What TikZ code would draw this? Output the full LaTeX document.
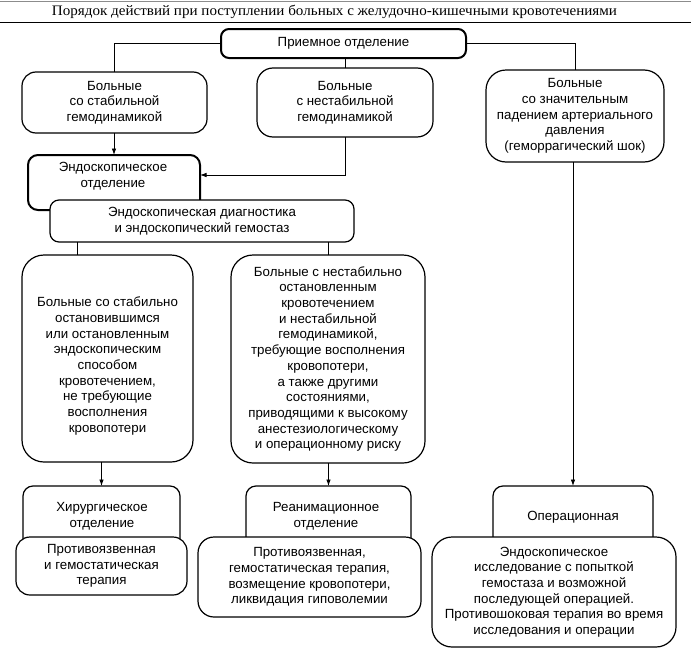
\documentclass[tikz,border=0pt]{standalone}
\usepackage{fontspec}
\setmainfont{Liberation Sans}
\newfontfamily\titlefont{Liberation Serif}
\usetikzlibrary{arrows.meta,calc}
\begin{document}
\begin{tikzpicture}[x=1pt,y=-1pt,
  font=\fontsize{13.3}{15.7}\selectfont,
  box/.style={draw, rounded corners=#1, fill=white, line width=1.2pt, inner sep=0pt, outer sep=0pt, align=center},
  box/.default=14pt,
  boldbox/.style={box=#1, line width=2pt},
  boldbox/.default=9pt,
  txt/.style={align=center, inner sep=0pt},
  conn/.style={line width=0.8pt},
  arr/.style={conn, -{Latex[length=6.5pt,width=4.5pt]}}]
\useasboundingbox (0,0) rectangle (691,656);
% title rules
\draw[black!45, line width=1.3pt] (0,1.5) -- (691,1.5);
\draw[line width=1.1pt] (0,22.5) -- (691,22.5);
\node[inner sep=0pt] (title) at (334.5,12) {\resizebox{565pt}{\height}{\titlefont\fontsize{14.5}{16}\selectfont Порядок действий при поступлении больных с желудочно-кишечными кровотечениями}};
% level 1
\node[boldbox=8pt, minimum width=245, minimum height=29] (P) at (343.5,43.5) {Приемное отделение};
\node[box=14pt, minimum width=185, minimum height=61] (B1) at (114.5,102.5) {Больные\\со стабильной\\гемодинамикой};
\node[box=16pt, minimum width=176, minimum height=69] (B2) at (345,102.5) {Больные\\с нестабильной\\гемодинамикой};
\node[box=20pt, minimum width=178, minimum height=92] (B3) at (575,116) {Больные\\со значительным\\падением артериального\\давления\\(геморрагический шок)};
\draw[conn] (P.west) -| (B1.north);
\draw[conn] (P.east) -| (B3.north);
\draw[conn] (P.south -| B2.north) -- (B2.north);
% endoscopy
\node[boldbox=10pt, minimum width=172, minimum height=55] (E) at (114,182.5) {};
\node[box=9pt, minimum width=304, minimum height=42] (D) at (202,221) {Эндоскопическая диагностика\\и эндоскопический гемостаз};
\node[txt] (ET) at (113,176) {Эндоскопическое\\отделение};
\draw[arr] (B1.south -| E.north) -- (E.north);
\draw[arr] (B2.south) |- ([yshift=7.5pt]E.east);
% level 3
\node[box=22pt, minimum width=171, minimum height=207] (S) at (107.5,358.5) {};
\node[txt] (ST) at (107.5,366) {Больные со стабильно\\остановившимся\\или остановленным\\эндоскопическим\\способом\\кровотечением,\\не требующие\\восполнения\\кровопотери};
\node[box=22pt, minimum width=194, minimum height=208] (U) at (328,359) {Больные с нестабильно\\остановленным\\кровотечением\\и нестабильной\\гемодинамикой,\\требующие восполнения\\кровопотери,\\а также другими\\состояниями,\\приводящими к высокому\\анестезиологическому\\и операционному риску};
\draw[conn] (D.south -| 77,0) -- ([xshift=-30.5pt]S.north);
\draw[conn] (D.south -| U.north) -- (U.north);
% level 4
\node[box=10pt, minimum width=157, minimum height=74] (H) at (101.5,523) {};
\node[box=14pt, minimum width=171, minimum height=58] (HT) at (101.5,566) {Противоязвенная\\и гемостатическая\\терапия};
\node[txt] (HX) at (102,516.5) {Хирургическое\\отделение};
\node[box=10pt, minimum width=165, minimum height=74] (R) at (328.5,523) {};
\node[box=16pt, minimum width=223, minimum height=80] (RT) at (309.5,577) {Противоязвенная,\\гемостатическая терапия,\\возмещение кровопотери,\\ликвидация гиповолемии};
\node[txt] (RX) at (326,516.5) {Реанимационное\\отделение};
\node[box=10pt, minimum width=160, minimum height=74] (O) at (573,523) {};
\node[box=20pt, minimum width=244, minimum height=110] (OT) at (554,592) {Эндоскопическое\\исследование с попыткой\\гемостаза и возможной\\последующей операцией.\\Противошоковая терапия во время\\исследования и операции};
\node[txt] (OX) at (573,517) {Операционная};
\draw[arr] (S.south -| H.north) -- (H.north);
\draw[arr] (U.south -| R.north) -- (R.north);
\draw[arr] (B3.south -| O.north) -- (O.north);
\end{tikzpicture}
\end{document}
